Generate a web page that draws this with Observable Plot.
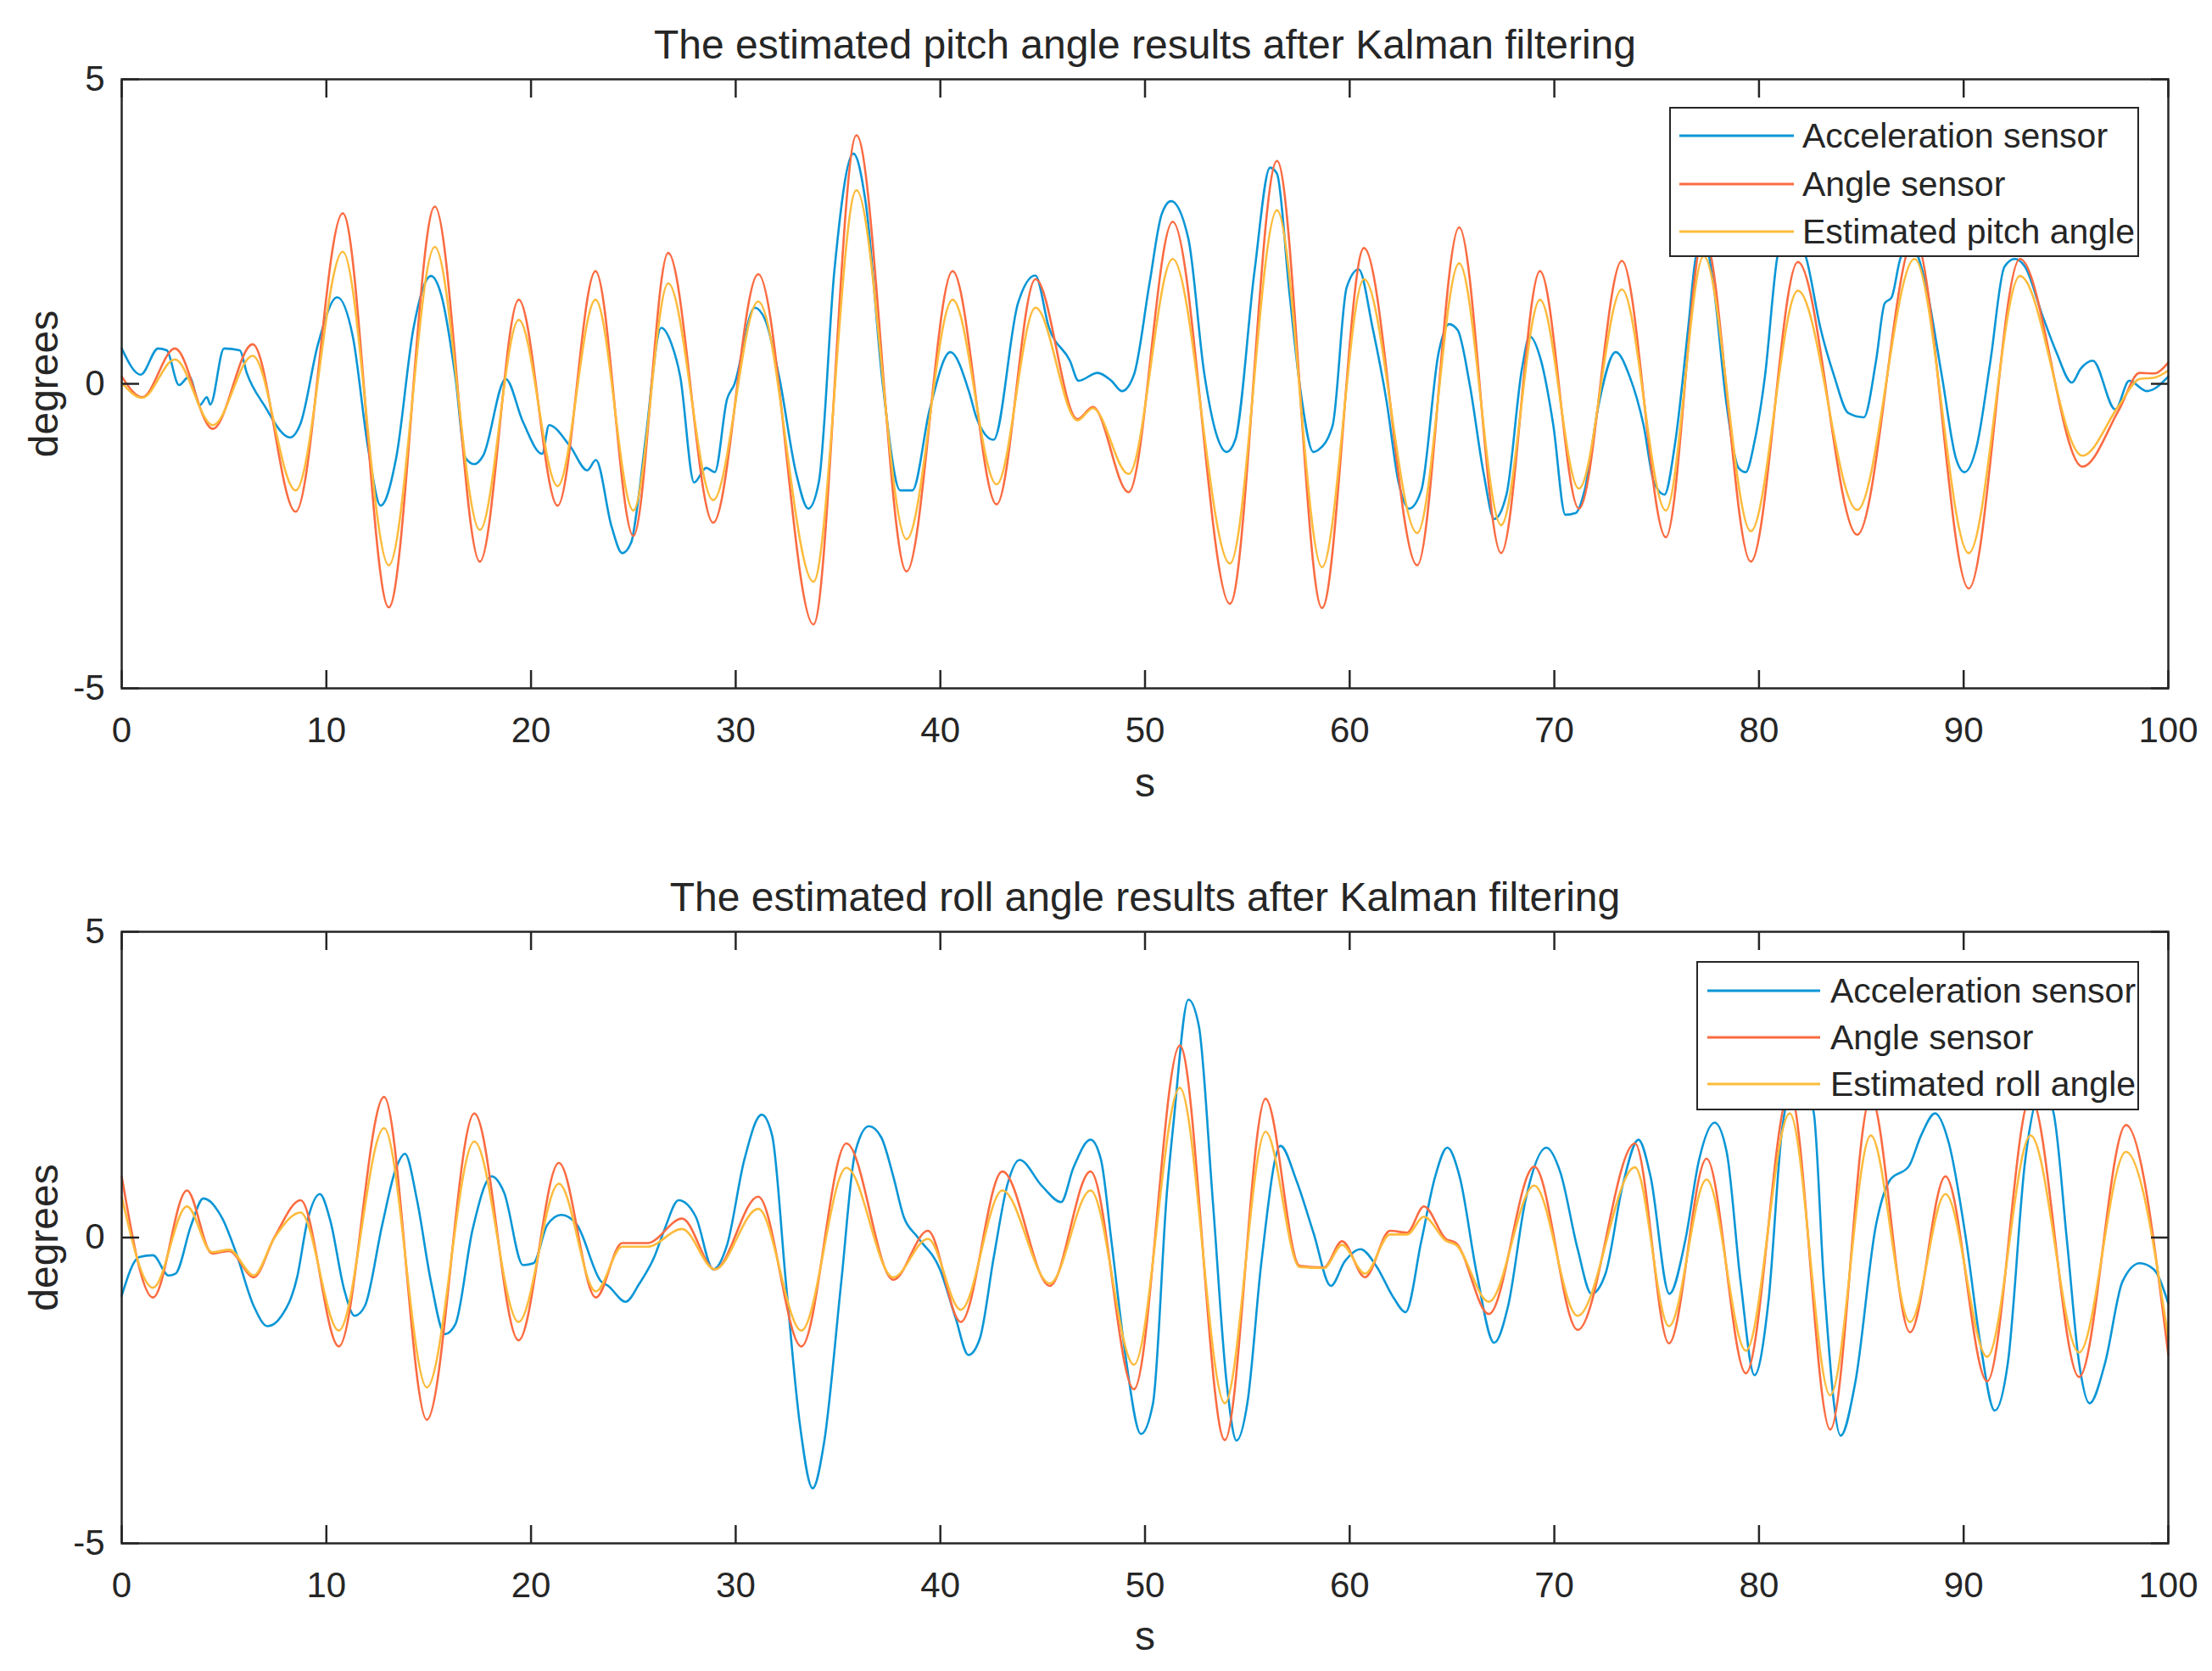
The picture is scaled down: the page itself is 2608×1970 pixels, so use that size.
<!DOCTYPE html>
<html>
<head>
<meta charset="utf-8">
<script src="https://cdn.jsdelivr.net/npm/d3@7"></script>
<script src="https://cdn.jsdelivr.net/npm/@observablehq/plot@0.6"></script>
<style>
  body { margin: 0; background: #fff; }
  #wrap { position: relative; width: 2608px; height: 1970px; font-family: "Liberation Sans", Arial, sans-serif; }
  .panel { position: absolute; left: 0; }
  .legend { position: absolute; background: #fff; border: 2.5px solid #262626; box-sizing: border-box; }
  .legend svg { position: absolute; left: 0; top: 0; }
</style>
</head>
<body>
<div id="wrap">
  <div id="pitch" class="panel" style="top:0"></div>
  <div id="roll" class="panel" style="top:985px"></div>
</div>
<script>
// ---- data ----
const xTicks = [0, 10, 20, 30, 40, 50, 60, 70, 80, 90, 100];
const yTicks = [-5, 0, 5];
const seriesNames = ["Acceleration sensor", "Angle sensor"];
const colors = ["#0a96d6", "#fb6b41", "#fdbb3c"];

// pitch: times of the turning points of angle sensor / estimate
const pitchT = [0, 1.0, 2.6, 4.45, 6.4, 8.5, 10.8, 13.05, 15.3, 17.5, 19.4, 21.3, 23.15, 25.0, 26.7, 28.9, 31.1, 33.8, 35.9, 38.35,
  40.6, 42.75, 44.65, 46.7, 47.45, 49.2, 51.35, 54.15, 56.45, 58.65, 60.7, 63.3, 65.35, 67.4, 69.3, 71.2, 73.3, 75.45, 77.3, 79.6,
  81.9, 84.8, 87.6, 90.25, 92.75, 95.8, 97.6, 98.6, 99.3, 100];
const pitchAngle = [0.12, -0.22, 0.58, -0.74, 0.65, -2.1, 2.8, -3.67, 2.91, -2.92, 1.38, -2.0, 1.85, -2.5, 2.15, -2.28, 1.8, -3.95, 4.08, -3.08,
  1.85, -1.98, 1.72, -0.58, -0.38, -1.78, 2.66, -3.61, 3.66, -3.68, 2.23, -2.98, 2.57, -2.78, 1.85, -2.05, 2.02, -2.52, 2.45, -2.92,
  2.0, -2.48, 2.4, -3.36, 2.05, -1.36, -0.42, 0.18, 0.17, 0.35];
const pitchEst = [0.02, -0.23, 0.4, -0.68, 0.46, -1.75, 2.17, -2.98, 2.25, -2.4, 1.05, -1.68, 1.38, -2.08, 1.65, -1.91, 1.35, -3.25, 3.18, -2.55,
  1.38, -1.65, 1.25, -0.6, -0.4, -1.48, 2.05, -2.95, 2.85, -3.01, 1.72, -2.45, 1.98, -2.32, 1.38, -1.72, 1.55, -2.08, 2.1, -2.42,
  1.53, -2.07, 2.05, -2.78, 1.77, -1.18, -0.35, 0.08, 0.1, 0.22];
const pitchAcc = [[0,0.58],[0.93,0.15],[1.78,0.58],[2.2,0.55],[2.8,-0.02],[3.3,0.12],[3.82,-0.35],[4.16,-0.22],[4.33,-0.34],[5.0,0.58],
  [5.77,0.55],[6.11,0.18],[6.96,-0.35],[8.23,-0.88],[8.74,-0.65],[9.59,0.65],[10.53,1.42],[11.29,0.78],[12.05,-1.08],[12.65,-2.0],
  [13.41,-1.22],[14.26,0.92],[15.11,1.77],[15.62,1.45],[16.3,0.12],[16.8,-1.22],[17.23,-1.32],[17.66,-1.18],[18.76,0.08],[19.6,-0.62],
  [20.54,-1.15],[20.88,-0.68],[21.9,-1.02],[22.75,-1.42],[23.17,-1.25],[23.94,-2.35],[24.45,-2.78],[24.9,-2.6],[25.2,-2.0],[25.6,-0.9],
  [26.36,0.92],[26.87,0.65],[27.29,0.12],[27.97,-1.62],[28.56,-1.38],[28.98,-1.45],[29.58,-0.25],[29.92,-0.02],[30.93,1.25],[31.44,1.05],
  [32.12,0.12],[32.96,-1.48],[33.55,-2.05],[34.06,-1.62],[34.82,1.85],[35.75,3.78],[36.35,2.98],[37.19,-0.02],[38.04,-1.75],[38.63,-1.75],
  [39.48,-0.42],[40.49,0.52],[41.42,-0.15],[41.76,-0.55],[42.6,-0.92],[43.79,1.32],[44.64,1.78],[45.31,0.92],[46.33,0.38],[46.75,0.05],
  [47.68,0.18],[48.36,0.05],[48.87,-0.12],[49.46,0.15],[50.22,1.65],[50.81,2.78],[51.27,3.0],[52.12,2.38],[52.89,0.18],[53.48,-0.82],
  [53.99,-1.12],[54.41,-0.92],[55.35,1.85],[56.11,3.55],[56.45,3.45],[57.05,1.52],[57.56,-0.02],[58.23,-1.12],[58.49,-1.08],[59.17,-0.68],
  [59.85,1.58],[60.44,1.88],[61.12,0.92],[61.8,-0.28],[62.39,-1.62],[62.9,-2.05],[63.5,-1.75],[64.35,0.52],[64.86,0.98],[65.28,0.88],
  [65.87,-0.02],[66.55,-1.48],[67.06,-2.22],[67.66,-1.82],[68.42,0.25],[68.79,0.78],[69.35,0.38],[69.95,-0.68],[70.54,-2.15],[71.05,-2.12],
  [71.48,-1.75],[72.16,-0.35],[73.0,0.52],[73.68,0.12],[74.36,-0.68],[74.87,-1.62],[75.38,-1.82],[75.89,-1.0],[76.56,0.98],[76.9,2.05],
  [77.3,2.4],[77.74,1.72],[78.42,-0.35],[79.0,-1.38],[79.35,-1.45],[79.78,-0.95],[80.29,0.12],[80.88,2.05],[81.4,2.6],[82.32,2.05],
  [83.0,0.92],[83.68,0.12],[84.36,-0.48],[85.12,-0.55],[85.72,0.38],[86.14,1.32],[86.48,1.42],[86.9,2.05],[87.4,2.3],[88.09,1.72],
  [88.94,0.12],[89.62,-1.22],[90.04,-1.45],[90.64,-1.02],[91.31,0.38],[91.99,1.92],[92.5,2.05],[93.0,1.92],[93.85,1.12],[94.53,0.52],
  [95.29,0.02],[95.72,0.25],[96.31,0.38],[97.41,-0.42],[98.09,0.05],[98.95,-0.12],[100,0.12]];

// roll
const rollT = [0, 1.53, 3.19, 4.41, 5.26, 6.45, 7.47, 8.74, 10.61, 12.82, 14.91, 17.23, 19.39, 21.36, 23.17, 24.45, 25.69, 27.38, 28.98, 31.1,
  33.21, 35.41, 37.7, 39.39, 41.0, 43.03, 45.35, 47.34, 49.46, 51.7, 53.9, 55.89, 57.55, 58.74, 59.63, 60.75, 61.97, 62.8, 63.63, 64.69,
  65.2, 66.8, 69.02, 71.14, 73.94, 75.6, 77.44, 79.36, 81.5, 83.48, 85.46, 87.38, 89.11, 91.15, 93.27, 95.64, 97.93, 100];
const rollAngle = [1.0, -0.98, 0.77, -0.26, -0.22, -0.65, 0.01, 0.61, -1.78, 2.3, -2.98, 2.03, -1.68, 1.22, -0.98, -0.09, -0.09, 0.31, -0.52, 0.67,
  -1.78, 1.54, -0.69, 0.11, -1.38, 1.08, -0.79, 1.08, -2.48, 3.14, -3.31, 2.27, -0.46, -0.49, -0.06, -0.65, 0.11, 0.08, 0.51, -0.02,
  -0.09, -1.25, 1.16, -1.51, 1.54, -1.73, 1.29, -2.22, 2.4, -3.14, 2.3, -1.55, 1.0, -2.35, 2.3, -2.28, 1.84, -1.92];
const rollEst = [0.67, -0.82, 0.51, -0.24, -0.2, -0.62, 0.0, 0.41, -1.52, 1.79, -2.45, 1.57, -1.38, 0.88, -0.88, -0.15, -0.15, 0.14, -0.52, 0.47,
  -1.52, 1.14, -0.65, -0.02, -1.18, 0.77, -0.75, 0.77, -2.08, 2.45, -2.71, 1.73, -0.48, -0.5, -0.12, -0.59, 0.05, 0.05, 0.34, -0.05,
  -0.12, -1.05, 0.85, -1.28, 1.15, -1.45, 0.95, -1.85, 2.03, -2.58, 1.67, -1.38, 0.71, -1.95, 1.67, -1.88, 1.4, -1.65];
const rollAcc = [[0,-0.95],[0.85,-0.32],[1.53,-0.29],[2.29,-0.62],[2.63,-0.59],[3.4,0.21],[3.99,0.64],[4.92,0.31],[5.6,-0.26],[6.45,-1.12],
  [7.13,-1.45],[7.81,-1.28],[8.57,-0.65],[9.08,0.28],[9.68,0.71],[10.19,0.28],[10.87,-0.85],[11.38,-1.28],[11.88,-1.12],[12.73,0.21],
  [13.41,1.14],[13.84,1.37],[14.43,0.61],[15.11,-0.72],[15.79,-1.58],[16.3,-1.42],[17.15,0.14],[18.08,1.0],[18.68,0.74],[19.61,-0.45],
  [20.12,-0.42],[20.8,0.21],[21.48,0.37],[22.24,0.21],[23.43,-0.72],[23.77,-0.79],[24.62,-1.05],[25.3,-0.75],[26.02,-0.32],[26.53,0.14],
  [27.21,0.61],[28.05,0.34],[28.9,-0.52],[29.58,-0.12],[30.42,1.27],[31.27,2.01],[31.78,1.67],[32.45,-0.72],[33.13,-3.04],[33.76,-4.1],
  [34.31,-3.37],[35.16,-0.72],[35.84,1.4],[36.51,1.82],[37.11,1.64],[37.7,1.0],[38.21,0.34],[38.88,0.01],[39.98,-0.52],[40.74,-1.31],
  [41.37,-1.92],[41.93,-1.65],[42.61,-0.32],[43.28,0.87],[43.87,1.27],[44.97,0.84],[45.9,0.58],[46.5,1.14],[47.34,1.6],[47.85,1.27],
  [48.36,-0.06],[49.04,-1.92],[49.8,-3.21],[50.39,-2.71],[51.07,0.74],[51.4,1.9],[52.12,3.89],[52.63,3.46],[53.31,0.61],[53.99,-2.38],
  [54.47,-3.32],[55.0,-2.71],[55.69,-0.39],[56.62,1.5],[57.39,0.94],[58.23,0.08],[59.08,-0.79],[59.76,-0.39],[60.53,-0.19],[61.29,-0.46],
  [62.14,-0.98],[62.73,-1.22],[63.5,-0.06],[64.18,1.0],[64.77,1.47],[65.37,1.0],[66.21,-0.59],[67.06,-1.72],[67.74,-1.12],[68.59,0.61],
  [69.61,1.47],[70.29,1.07],[71.14,-0.19],[71.82,-0.92],[72.5,-0.59],[73.35,0.87],[74.11,1.6],[74.7,1.0],[75.62,-0.92],[76.39,-0.06],
  [77.07,1.27],[77.83,1.88],[78.42,1.4],[79.1,-0.72],[79.78,-2.25],[80.46,-1.05],[81.14,1.8],[81.8,2.6],[82.66,2.07],[83.17,-0.72],
  [83.99,-3.24],[84.7,-2.38],[85.72,0.21],[86.4,0.94],[87.33,1.17],[87.92,1.67],[88.6,2.03],[89.28,1.54],[90.13,-0.06],[90.81,-1.72],
  [91.52,-2.83],[92.16,-2.05],[93.01,1.27],[93.8,2.4],[94.37,2.07],[95.05,-0.06],[95.64,-2.05],[96.15,-2.71],[96.91,-2.05],[97.76,-0.72],
  [98.61,-0.42],[99.29,-0.52],[100,-1.08]];

const ink = "#262626";
const font = "Liberation Sans, Arial, sans-serif";

function subplot({title, acc, t, angle, est, marginTop, marginBottom, titleDy, sDy}) {
  const accRows = acc.map(([x, v]) => ({x, v}));
  const angleRows = t.map((x, i) => ({x, v: angle[i]}));
  const estRows = t.map((x, i) => ({x, v: est[i]}));
  return Plot.plot({
    width: 2608,
    height: 985,
    marginLeft: 143,
    marginRight: 52,
    marginTop,
    marginBottom,
    x: {domain: [0, 100]},
    y: {domain: [-5, 5]},
    style: {fontFamily: font, color: ink, background: "white", overflow: "visible"},
    marks: [
      Plot.line(accRows, {x: "x", y: "v", stroke: colors[0], strokeWidth: 2.6, curve: "monotone-x"}),
      Plot.line(angleRows, {x: "x", y: "v", stroke: colors[1], strokeWidth: 2.6, curve: "monotone-x"}),
      Plot.line(estRows, {x: "x", y: "v", stroke: colors[2], strokeWidth: 2.6, curve: "monotone-x"}),
      // inward ticks on all four sides
      Plot.axisX({ticks: xTicks, anchor: "bottom", tickSize: -21, strokeWidth: 2.5, tickFormat: () => "", label: null}),
      Plot.axisX({ticks: xTicks, anchor: "top", tickSize: -21, strokeWidth: 2.5, tickFormat: () => "", label: null}),
      Plot.axisY({ticks: yTicks, anchor: "left", tickSize: -21, strokeWidth: 2.5, tickFormat: () => "", label: null}),
      Plot.axisY({ticks: yTicks, anchor: "right", tickSize: -21, strokeWidth: 2.5, tickFormat: () => "", label: null}),
      // tick labels (plain hyphen for negatives, as in the original)
      Plot.axisX({ticks: xTicks, anchor: "bottom", tickSize: 0, tickPadding: 34, fontSize: 42, label: null, tickFormat: d => String(d)}),
      Plot.axisY({ticks: yTicks, anchor: "left", tickSize: 0, tickPadding: 20, fontSize: 42, label: null, tickFormat: d => String(d)}),
      Plot.frame({stroke: ink, strokeWidth: 2.5}),
      Plot.text([title], {frameAnchor: "top", lineAnchor: "middle", dy: titleDy, fontSize: 48, fill: ink}),
      Plot.text(["s"], {frameAnchor: "bottom", lineAnchor: "middle", dy: sDy, fontSize: 48, fill: ink}),
      Plot.text(["degrees"], {frameAnchor: "left", textAnchor: "middle", lineAnchor: "middle", dx: -91, rotate: -90, fontSize: 48, fill: ink})
    ]
  });
}

function legend(parent, {left, top, width, height, rows, lineX1, lineX2, textX, labels}) {
  const box = d3.select(parent).append("div").attr("class", "legend")
    .style("left", left + "px").style("top", top + "px")
    .style("width", width + "px").style("height", height + "px");
  const svg = box.append("svg").attr("width", width).attr("height", height);
  labels.forEach((lab, i) => {
    svg.append("line").attr("x1", lineX1).attr("x2", lineX2).attr("y1", rows[i]).attr("y2", rows[i])
      .attr("stroke", colors[i]).attr("stroke-width", 2.8);
    svg.append("text").attr("x", textX).attr("y", rows[i]).attr("dy", "0.35em")
      .attr("font-size", 41).attr("font-family", font).attr("fill", ink).text(lab);
  });
}

d3.select("#pitch").append(() => subplot({
  title: "The estimated pitch angle results after Kalman filtering",
  acc: pitchAcc, t: pitchT, angle: pitchAngle, est: pitchEst,
  marginTop: 93, marginBottom: 174, titleDy: -40, sDy: 112
}));
d3.select("#roll").append(() => subplot({
  title: "The estimated roll angle results after Kalman filtering",
  acc: rollAcc, t: rollT, angle: rollAngle, est: rollEst,
  marginTop: 113, marginBottom: 151, titleDy: -40, sDy: 110
}));

const wrap = document.getElementById("wrap");
legend(wrap, {left: 1968, top: 126, width: 554, height: 177, rows: [32, 89, 145], lineX1: 10, lineX2: 145, textX: 155,
  labels: [...seriesNames, "Estimated pitch angle"]});
legend(wrap, {left: 2000, top: 1133, width: 522, height: 176, rows: [33, 88, 143], lineX1: 11, lineX2: 144, textX: 156,
  labels: [...seriesNames, "Estimated roll angle"]});
</script>
</body>
</html>
